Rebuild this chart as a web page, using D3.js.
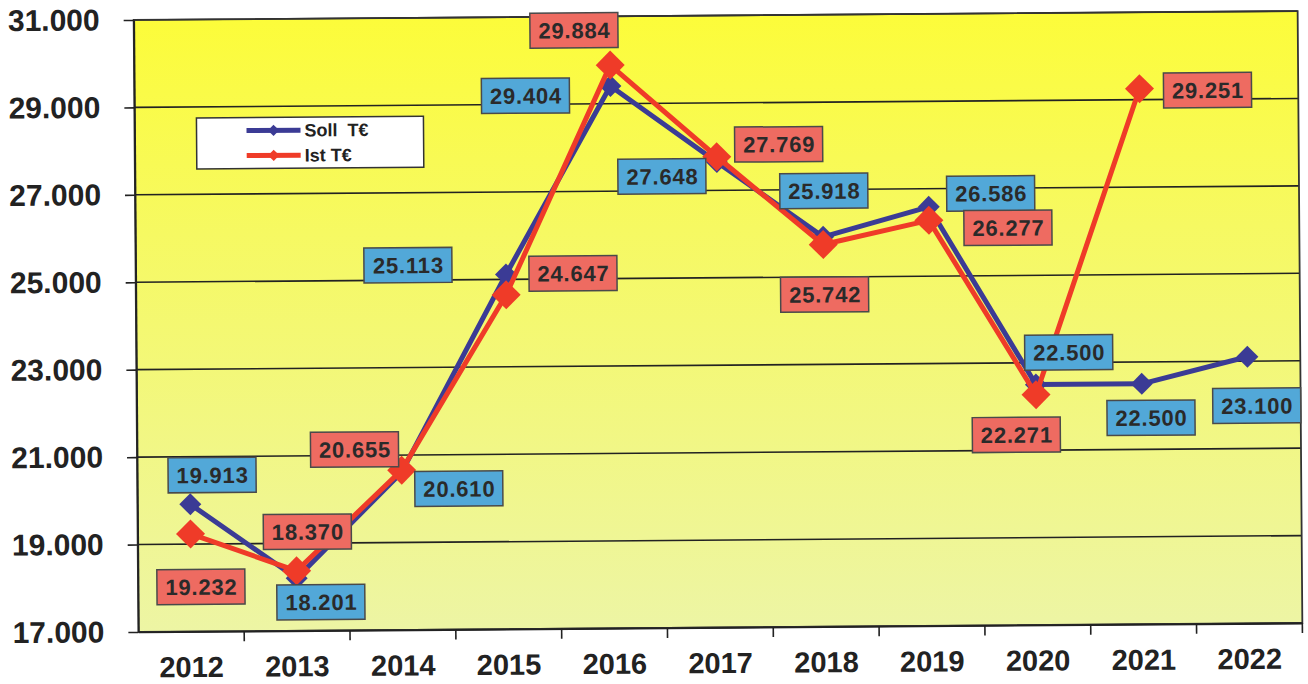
<!DOCTYPE html>
<html><head><meta charset="utf-8">
<script src="https://cdn.jsdelivr.net/npm/d3@7"></script>
<style>body{margin:0;background:#fff}svg{display:block}</style>
</head><body><svg id="c" width="1308" height="684"></svg>
<script>
// ---------- data ----------
const years = ["2012","2013","2014","2015","2016","2017","2018","2019","2020","2021","2022"];
const soll  = [19913, 18201, 20610, 25113, 29404, 27648, 25918, 26586, 22500, 22500, 23100];
const ist   = [19232, 18370, 20655, 24647, 29884, 27769, 25742, 26277, 22271, 29251, null];
const yTicks = [17000, 19000, 21000, 23000, 25000, 27000, 29000, 31000];
const seriesNames = ["Soll  T€", "Ist T€"];

// ---------- layout (label offsets relative to their point) ----------
const sollLabelOffset = [[22,-29],[24,24],[57,17],[-98,-10],[-85,9],[-55,14],[1,-46],[62,-13],[33,-32],[9,34],[9,49]];
const istLabelOffset  = [[10,53],[11,-39],[-47,-21],[67,-21],[-36,-35],[62,-12],[1,50],[79,8],[-20,40],[68,2],[0,0]];

const W = 1308, H = 684;
const plot = {left:136, right:1300, top:15.5, bottom:627.5};
const font = "'Liberation Sans', Arial, sans-serif";
const blue = "#3b3b95", red = "#ef3b28";
const blueFill = "#52a8d8", redFill = "#ee6b61";

const de = d3.formatLocale({decimal:",", thousands:".", grouping:[3], currency:["","€"]});
const fmt = de.format(",d");

const svg = d3.select("#c");
const defs = svg.append("defs");
const grad = defs.append("linearGradient").attr("id","bg").attr("x1",0).attr("y1",0).attr("x2",0).attr("y2",1);
grad.append("stop").attr("offset","0%").attr("stop-color","#fcfc3a");
grad.append("stop").attr("offset","35%").attr("stop-color","#f6f962");
grad.append("stop").attr("offset","100%").attr("stop-color","#edf5a4");

const g = svg.append("g").attr("transform","rotate(-0.44,717,321)");

const x = d3.scaleBand().domain(years).range([plot.left, plot.right]).padding(0);
const y = d3.scaleLinear().domain([17000, 31000]).range([plot.bottom, plot.top]);
const cx = d => x(d) + x.bandwidth()/2;

// background
g.append("rect").attr("x",plot.left).attr("y",plot.top)
  .attr("width",plot.right-plot.left).attr("height",plot.bottom-plot.top)
  .attr("fill","url(#bg)");

// gridlines
g.append("g").selectAll("line").data(yTicks).join("line")
  .attr("x1",plot.left).attr("x2",plot.right)
  .attr("y1",d=>y(d)).attr("y2",d=>y(d))
  .attr("stroke","#222").attr("stroke-width",1.6);

// plot border
g.append("rect").attr("x",plot.left).attr("y",plot.top)
  .attr("width",plot.right-plot.left).attr("height",plot.bottom-plot.top)
  .attr("fill","none").attr("stroke","#333").attr("stroke-width",1.8);

// y axis
const yAxis = g.append("g").attr("transform",`translate(${plot.left},0)`)
  .call(d3.axisLeft(y).tickValues(yTicks).tickFormat(fmt).tickSize(10).tickSizeOuter(0).tickPadding(24));
yAxis.select(".domain").attr("stroke","#222").attr("stroke-width",1.8);
yAxis.selectAll(".tick line").attr("stroke","#222").attr("stroke-width",1.6);
yAxis.selectAll("text").attr("font-family",font).attr("font-weight","bold")
  .attr("font-size",30).attr("fill","#222");

// x axis
const xAxis = g.append("g").attr("transform",`translate(0,${plot.bottom})`)
  .call(d3.axisBottom(x).tickSize(0).tickPadding(25));
xAxis.select(".domain").attr("stroke","#222").attr("stroke-width",1.8);
xAxis.selectAll("text").attr("font-family",font).attr("font-weight","bold")
  .attr("font-size",29).attr("fill","#222");
g.append("g").selectAll("line").data(years.slice(1).concat([null])).join("line")
  .attr("x1",d=> d===null ? plot.right : x(d)).attr("x2",d=> d===null ? plot.right : x(d))
  .attr("y1",plot.bottom).attr("y2",plot.bottom+10)
  .attr("stroke","#222").attr("stroke-width",1.6);

// series
const series = [
  {name:seriesNames[0], values:soll, color:blue, fill:blueFill, off:sollLabelOffset, r:11},
  {name:seriesNames[1], values:ist,  color:red,  fill:redFill,  off:istLabelOffset,  r:14.5}
];
const line = d3.line().defined(d=>d.v!=null).x(d=>cx(d.year)).y(d=>y(d.v));

series.forEach(s=>{
  const pts = years.map((yr,i)=>({year:yr, v:s.values[i], i}));
  g.append("path").datum(pts).attr("d",line).attr("fill","none")
    .attr("stroke",s.color).attr("stroke-width",5).attr("stroke-linejoin","round");
  const side = s.r*Math.SQRT2;
  g.append("g").selectAll("rect").data(pts.filter(p=>p.v!=null)).join("rect")
    .attr("x",-side/2).attr("y",-side/2).attr("width",side).attr("height",side)
    .attr("transform",p=>`translate(${cx(p.year)},${y(p.v)}) rotate(45)`)
    .attr("fill",s.color);
});

// value labels
series.forEach(s=>{
  const pts = years.map((yr,i)=>({year:yr, v:s.values[i], i})).filter(p=>p.v!=null);
  const lg = g.append("g").selectAll("g").data(pts).join("g")
    .attr("transform",p=>`translate(${cx(p.year)+s.off[p.i][0]},${y(p.v)+s.off[p.i][1]})`);
  lg.append("rect").attr("x",-44).attr("y",-17.5).attr("width",88).attr("height",35)
    .attr("fill",s.fill).attr("stroke","#4a4a4a").attr("stroke-width",1.5);
  lg.append("text").attr("text-anchor","middle").attr("dy","0.36em").attr("x",0.5)
    .attr("font-family",font).attr("font-weight","bold").attr("font-size",22)
    .attr("letter-spacing","0.8px").attr("fill","#2a2a2a").text(p=>fmt(p.v));
});

// legend
const leg = g.append("g");
leg.append("rect").attr("x",198).attr("y",114).attr("width",227).attr("height",51)
  .attr("fill","#fff").attr("stroke","#333").attr("stroke-width",1.5);
series.forEach((s,i)=>{
  const ly = 127 + i*25;
  leg.append("line").attr("x1",248).attr("x2",302).attr("y1",ly).attr("y2",ly)
    .attr("stroke",s.color).attr("stroke-width",5);
  leg.append("rect").attr("x",-4).attr("y",-4).attr("width",8).attr("height",8)
    .attr("transform",`translate(275,${ly}) rotate(45)`).attr("fill",s.color);
  leg.append("text").attr("x",306).attr("y",ly).attr("dy","0.35em")
    .attr("font-family",font).attr("font-weight","bold").attr("font-size",18)
    .attr("fill","#222").style("white-space","pre").text(s.name);
});
</script></body></html>
